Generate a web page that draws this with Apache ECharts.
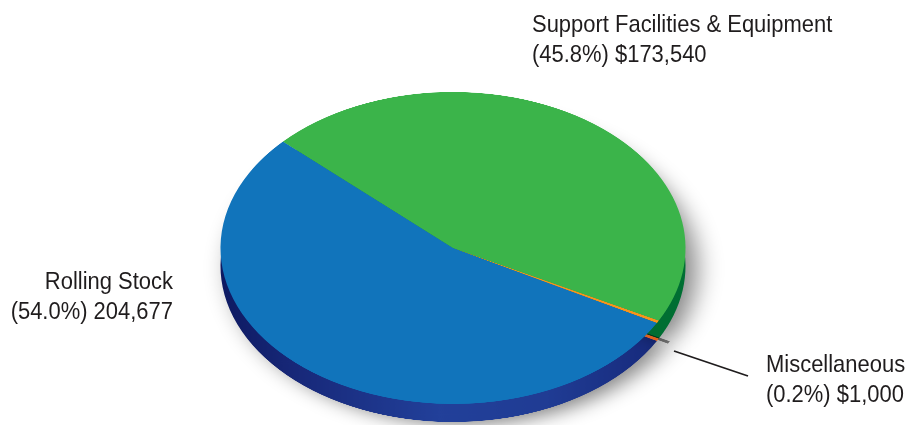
<!DOCTYPE html>
<html>
<head>
<meta charset="utf-8">
<script src="https://cdn.jsdelivr.net/npm/echarts@6/dist/echarts.min.js"></script>
<style>
  html, body { margin:0; padding:0; width:910px; height:425px; overflow:hidden; background:#ffffff; }
  #pie { position:absolute; left:0; top:0; width:910px; transform-origin:0 0; }
  #lab { position:absolute; left:0; top:0; width:910px; height:425px; }
</style>
</head>
<body>
<div id="pie"></div>
<div id="lab"></div>
<script>
// ---- data ----
const categories = ["Rolling Stock", "Support Facilities & Equipment", "Miscellaneous"];
const values = [204677, 173540, 1000];
const pctLabels = ["(54.0%)", "(45.8%)", "(0.2%)"];
const valueLabels = ["204,677", "$173,540", "$1,000"];

// ---- styles ----
const topColors = ["#1174bb", "#3bb44a", "#f7941d"];
const sideColors = [
  {type:'linear', x:0, y:0, x2:1, y2:0, colorStops:[
    {offset:0, color:'#0e1a62'}, {offset:0.18, color:'#18297a'},
    {offset:0.5, color:'#22409a'}, {offset:0.75, color:'#203c94'},
    {offset:1, color:'#172a7c'}]},
  {type:'linear', x:0, y:0, x2:1, y2:0, colorStops:[
    {offset:0, color:'#005f2c'}, {offset:1, color:'#006f33'}]},
  '#e0601e'
];

const rx = 232.5, ry = 156, cx = 453, cy = 248, depth = 18;
const S = ry / rx;

const pieDiv = document.getElementById('pie');
pieDiv.style.height = (425 / S) + 'px';
pieDiv.style.transform = 'scaleY(' + S + ')';

const total = values.reduce((a, b) => a + b, 0);
const startAngle = 137 + values[0] / total * 360;

const pie = echarts.init(pieDiv, null, {renderer:'canvas', devicePixelRatio:2});
pie.setOption({
  animation:false,
  series:[
    {
      type:'pie', silent:true, radius:rx, center:[cx, (cy + depth) / S],
      startAngle:startAngle, clockwise:true, padAngle:0,
      label:{show:false}, labelLine:{show:false}, z:1,
      data: categories.map((c, i) => ({
        name:c, value:values[i],
        itemStyle:{color:sideColors[i], borderWidth:0,
          shadowBlur: i < 2 ? 26 : 0, shadowColor:'rgba(0,0,0,0.48)',
          shadowOffsetX: 11, shadowOffsetY: 4}
      }))
    },
    {
      type:'pie', silent:true, radius:rx, center:[cx, cy / S],
      startAngle:startAngle, clockwise:true, padAngle:0,
      label:{show:false}, labelLine:{show:false}, z:2,
      data: categories.map((c, i) => ({
        name:c, value:values[i], itemStyle:{color:topColors[i], borderWidth:0}
      }))
    }
  ]
});

// ---- labels ----
const lab = echarts.init(document.getElementById('lab'), null, {renderer:'svg'});
const labelPos = [
  {x:173, y:266, align:'right'},
  {x:532, y:9, align:'left'},
  {x:766, y:349, align:'left'}
];
const font = '24px "Liberation Sans", Arial, sans-serif';
const texts = categories.map((c, i) => ({
  type:'text', x:labelPos[i].x, y:labelPos[i].y, scaleX:0.915, silent:true,
  style:{text: c + '\n' + pctLabels[i] + ' ' + valueLabels[i], font:font,
    lineHeight:30, fill:'#1f1c1d', align:labelPos[i].align, verticalAlign:'top'}
}));
lab.setOption({
  animation:false,
  graphic:{elements: texts.concat([
    {type:'line', silent:true, shape:{x1:674, y1:351, x2:748, y2:376},
     style:{stroke:'#1f1c1d', lineWidth:1.8}}
  ])}
});
</script>
</body>
</html>
